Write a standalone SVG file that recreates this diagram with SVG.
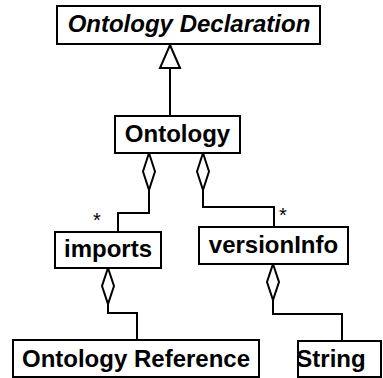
<svg xmlns="http://www.w3.org/2000/svg" width="383" height="378" viewBox="0 0 383 378">
  <style>
    .box { fill: #ffffff; stroke: #000000; stroke-width: 2; }
    .label { font-family: "Liberation Sans", Arial, sans-serif; font-weight: bold; font-size: 24px; text-anchor: middle; fill: #000000; }
    .abstract { font-style: italic; }
    .mult { font-family: "Liberation Sans", Arial, sans-serif; font-size: 20px; fill: #000000; text-anchor: middle; }
    .line { fill: none; stroke: #000000; stroke-width: 2; }
    .diamond { fill: #ffffff; stroke: #000000; stroke-width: 2; }
  </style>

  <g id="connectors">
    <!-- generalization: Ontology -> Ontology Declaration -->
    <line class="line" x1="170" y1="68" x2="170" y2="116"/>
    <polygon class="diamond" points="170,45 180,68 160,68"/>

    <!-- Ontology <>- imports -->
    <polygon class="diamond" points="149,153 155,171.5 149,190 143,171.5"/>
    <polyline class="line" points="149,190 149,213 118,213 118,232"/>
    <text class="mult" x="97" y="227">*</text>

    <!-- Ontology <>- versionInfo -->
    <polygon class="diamond" points="203,153 209,171.5 203,190 197,171.5"/>
    <polyline class="line" points="203,190 203,207 274,207 274,227"/>
    <text class="mult" x="283" y="222">*</text>

    <!-- imports <>- Ontology Reference -->
    <polygon class="diamond" points="108,268 114,286 108,304 102,286"/>
    <polyline class="line" points="108,304 108,313 137,313 137,340"/>

    <!-- versionInfo <>- String -->
    <polygon class="diamond" points="273,264 279,282 273,300 267,282"/>
    <polyline class="line" points="273,300 273,314 342,314 342,341"/>
  </g>

  <g id="ontology-declaration">
    <rect class="box" x="57" y="6" width="263" height="38"/>
    <text class="label abstract" x="189" y="32">Ontology Declaration</text>
  </g>

  <g id="ontology">
    <rect class="box" x="115" y="116" width="125" height="37"/>
    <text class="label" x="177.5" y="142">Ontology</text>
  </g>

  <g id="imports">
    <rect class="box" x="55" y="232" width="106" height="36"/>
    <text class="label" x="108" y="257">imports</text>
  </g>

  <g id="versionInfo">
    <rect class="box" x="199" y="227" width="149" height="37"/>
    <text class="label" x="273.5" y="253">versionInfo</text>
  </g>

  <g id="ontology-reference">
    <rect class="box" x="13" y="340" width="246" height="37"/>
    <text class="label" x="136" y="367">Ontology Reference</text>
  </g>

  <g id="string">
    <rect class="box" x="298" y="341" width="83" height="36"/>
    <text class="label" x="331" y="367">String</text>
  </g>
</svg>
